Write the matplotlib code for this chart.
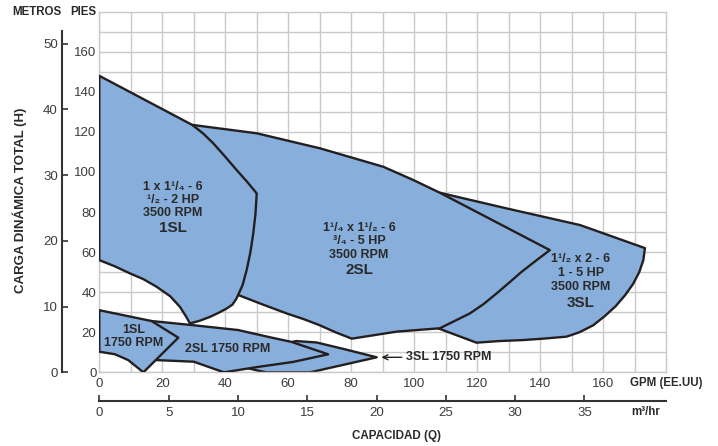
import matplotlib
matplotlib.use("Agg")
import matplotlib.pyplot as plt
from matplotlib.patches import Polygon

plt.rcParams['font.family'] = ['Liberation Sans', 'DejaVu Sans']

# pump coverage regions, (GPM, feet); closing points hidden under the shape drawn on top
sl1_3500 = [(0, 148), (29.5, 123.5), (33, 119.2), (36.2, 114.3), (40, 107.6), (43.6, 101),
            (47, 95), (50, 89.3), (49.6, 79), (48.9, 69.4), (48, 60), (46.8, 51), (45.5, 43.5),
            (43.6, 36.9), (42.3, 33.8), (40.5, 31.9), (38, 29.8), (35.2, 27.7), (32, 25.8),
            (28.8, 24.4), (27.5, 28), (25.6, 32.7), (22.5, 38), (18.2, 42.7), (14, 46.5),
            (9.7, 49.4), (4.8, 53), (0, 56)]
sl2_3500 = [(29.5, 123.5), (50, 119.3), (70.1, 111.8), (90.2, 102.6), (99.7, 96), (108.2, 89.6),
            (143.1, 61), (138.5, 55.5), (134, 50), (130, 44.5), (126.2, 39.4), (122, 34),
            (117.7, 29.4), (109.2, 22.8), (108.2, 22), (94.4, 20.3), (80.2, 16.8), (75, 20),
            (70, 23.5), (65, 26.5), (59.5, 29.4), (52, 33.8), (44.1, 38.6), (38, 70), (32, 115)]
sl3_3500 = [(108.2, 89.6), (129.4, 81.8), (152.7, 73.5), (173.3, 62), (172.8, 56), (171.5, 50),
            (169.5, 44), (167, 38.5), (164, 33), (160.5, 28), (156.9, 23.5), (152.5, 20),
            (148.4, 17.8), (141, 16.8), (134.6, 16.1), (127, 15.6), (119.8, 14.8),
            (105, 23.5), (120, 50)]
sl1_1750 = [(0, 31), (16.6, 25.6), (25.1, 17.3), (14, 0), (9.2, 6.1), (5, 9), (0, 10.3)]
sl2_1750 = [(16.6, 25.6), (29.3, 23.6), (44.1, 21.1), (54.2, 17.5), (61, 15.2), (72.7, 9),
            (61.6, 5.2), (50, 2.6), (39.6, 0), (30, 5.3), (18.2, 6.1), (14, 15)]
sl3_1750 = [(46, 2.5), (50, 1), (53, 0), (67, 0), (88.1, 7.5), (78, 11.5), (69, 14.9),
            (62.5, 15.6), (58, 14)]

gpm_ticks = [0, 20, 40, 60, 80, 100, 120, 140, 160]
ft_ticks = [0, 20, 40, 60, 80, 100, 120, 140, 160]
m_ticks = [0, 10, 20, 30, 40, 50]
m3h_ticks = [0, 5, 10, 15, 20, 25, 30, 35]

fill = '#88afdc'
edge = '#231f20'
txt = '#2a2a2a'
num = '#3c3c3c'
grid = '#c9c9c9'

fig = plt.figure(figsize=(7.18, 4.46), dpi=100)
ax = fig.add_axes([0.1383, 0.1652, 0.7893, 0.8086])
ax.set_xlim(0, 180)
ax.set_ylim(0, 180)
ax.set_xticks(gpm_ticks)
ax.set_yticks(ft_ticks)
ax.set_xticks(range(10, 180, 10), minor=True)
ax.set_yticks(range(10, 180, 10), minor=True)
ax.grid(True, which='both', color=grid, lw=1.0)
ax.set_axisbelow(True)
ax.tick_params(which='both', length=0, labelsize=9.5, labelcolor=num)
ax.tick_params(axis='x', pad=4)
ax.tick_params(axis='y', pad=2)
for s in ax.spines.values():
    s.set_color(grid)
    s.set_linewidth(1.0)

shapes = [(sl3_3500, 2), (sl2_3500, 3), (sl1_3500, 4),
          (sl3_1750, 2), (sl2_1750, 3), (sl1_1750, 4)]
for pts, z in shapes:
    ax.add_patch(Polygon(pts, closed=True, facecolor=fill, edgecolor=edge,
                         lw=1.7, joinstyle='round', zorder=z))

def block(x, y, lines, sizes):
    for (yy, s), fs in zip(zip(y, lines), sizes):
        ax.text(x, yy, s, ha='center', va='center', fontsize=fs, fontweight='bold',
                color=txt, zorder=6)

block(23.3, [92.3, 86, 79.3, 71.9], ['1 x 1¹/₄ - 6', '¹/₂ - 2 HP', '3500 RPM', '1SL'],
      [9, 9, 9, 11])
block(82.5, [72, 65.5, 58.5, 51], ['1¹/₄ x 1¹/₂ - 6', '³/₄ - 5 HP', '3500 RPM', '2SL'],
      [9, 9, 9, 11])
block(153, [56.5, 49.5, 42.6, 34.6], ['1¹/₂ x 2 - 6', '1 - 5 HP', '3500 RPM', '3SL'],
      [9, 9, 9, 11])
block(10.8, [21.1, 14.5], ['1SL', '1750 RPM'], [9, 9])
block(40.9, [11.6], ['2SL 1750 RPM'], [9])
ax.annotate('3SL 1750 RPM', xy=(89.6, 7.5), xytext=(97.4, 7.5), ha='left', va='center',
            fontsize=9, fontweight='bold', color=txt, zorder=6,
            arrowprops=dict(arrowstyle='->', color=edge, lw=1.0, shrinkA=1, shrinkB=0))

# metres scale on the far left
ax_m = ax.twinx()
ax_m.set_ylim(0, 180 / 3.28084)
ax_m.set_yticks(m_ticks)
ax_m.yaxis.tick_left()
ax_m.spines['left'].set_visible(True)
ax_m.spines['left'].set_position(('outward', 26.9))
ax_m.spines['left'].set_bounds(0, 52)
ax_m.spines['left'].set_color('#333333')
ax_m.spines['left'].set_linewidth(1.5)
for k in ['right', 'top', 'bottom']:
    ax_m.spines[k].set_visible(False)
ax_m.tick_params(axis='y', direction='in', length=4, width=1.2, color='#333333',
                 labelsize=9.5, labelcolor=num, pad=3)

# m3/hr scale under the GPM axis
ax_q = ax.twiny()
ax_q.set_xlim(0, 180 / 4.40287)
ax_q.set_xticks(m3h_ticks)
ax_q.xaxis.tick_bottom()
ax_q.spines['bottom'].set_visible(True)
ax_q.spines['bottom'].set_position(('outward', 20.7))
ax_q.spines['bottom'].set_color('#333333')
ax_q.spines['bottom'].set_linewidth(1.5)
for k in ['left', 'right', 'top']:
    ax_q.spines[k].set_visible(False)
ax_q.tick_params(axis='x', direction='in', length=4, width=1.2, color='#333333',
                 labelsize=9.5, labelcolor=num, pad=4)

fig.text(630 / 718, 1 - 383.3 / 446, 'GPM (EE.UU)', ha='left', va='center',
         fontsize=8.3, fontweight='bold', color=txt)
fig.text(631 / 718, 1 - 411.7 / 446, 'm³/hr', ha='left', va='center',
         fontsize=8.3, fontweight='bold', color=txt)
fig.text(396.7 / 718, 1 - 436 / 446, 'CAPACIDAD (Q)', ha='center', va='center',
         fontsize=8.4, fontweight='bold', color=txt)
fig.text(12.5 / 718, 1 - 12.3 / 446, 'METROS', ha='left', va='center',
         fontsize=8.3, fontweight='bold', color=txt)
fig.text(70 / 718, 1 - 12.3 / 446, 'PIES', ha='left', va='center',
         fontsize=8.3, fontweight='bold', color=txt)
fig.text(20 / 718, 1 - 200 / 446, 'CARGA DINÁMICA TOTAL (H)', ha='center', va='center',
         rotation=90, fontsize=9.5, fontweight='bold', color=txt)

fig.savefig('out.png', dpi=100)
